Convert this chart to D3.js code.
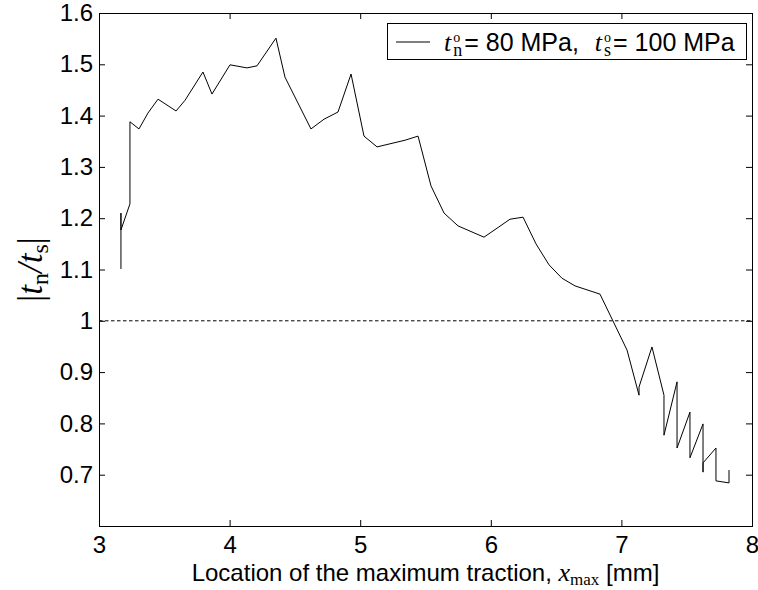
<!DOCTYPE html>
<html>
<head>
<meta charset="utf-8">
<script src="https://cdn.jsdelivr.net/npm/d3@7"></script>
<style>
  body { margin: 0; background: #fff; }
  svg { display: block; }
</style>
</head>
<body>
<div id="chart"></div>
<script>
// location of the maximum traction [mm]
var xmax = [3.168, 3.168, 3.168, 3.237, 3.237, 3.306, 3.375, 3.452, 3.590, 3.659,
            3.796, 3.865, 4.003, 4.133, 4.210, 4.355, 4.424, 4.623, 4.723, 4.830,
            4.930, 5.029, 5.129, 5.343, 5.443, 5.542, 5.642, 5.749, 5.948, 6.147,
            6.247, 6.346, 6.446, 6.545, 6.645, 6.836, 7.043, 7.135, 7.135, 7.234,
            7.326, 7.326, 7.426, 7.426, 7.525, 7.525, 7.625, 7.625, 7.625, 7.724,
            7.724, 7.824, 7.824];
// |tn/ts|
var ratio = [1.101, 1.210, 1.177, 1.228, 1.388, 1.374, 1.405, 1.432, 1.409, 1.430,
             1.485, 1.442, 1.499, 1.493, 1.497, 1.551, 1.475, 1.374, 1.393, 1.407,
             1.481, 1.360, 1.339, 1.352, 1.360, 1.263, 1.210, 1.185, 1.163, 1.198,
             1.202, 1.150, 1.109, 1.083, 1.068, 1.052, 0.943, 0.855, 0.871, 0.949,
             0.855, 0.777, 0.881, 0.752, 0.822, 0.733, 0.799, 0.705, 0.723, 0.752,
             0.688, 0.684, 0.709];

var xTicks = [3, 4, 5, 6, 7, 8];
var yTicks = [0.7, 0.8, 0.9, 1.0, 1.1, 1.2, 1.3, 1.4, 1.5, 1.6];
var refLevel = 1;

var sans = "'Liberation Sans', Arial, sans-serif";
var serif = "'Liberation Serif', 'Times New Roman', serif";

var margin = { top: 13, right: 6, bottom: 64, left: 99 },
    width = 758 - margin.left - margin.right,
    height = 590 - margin.top - margin.bottom;

var svg = d3.select("#chart")
    .append("svg")
    .attr("width", 758)
    .attr("height", 590);

var g = svg.append("g")
    .attr("transform", "translate(" + margin.left + "," + margin.top + ")");

var x = d3.scaleLinear().domain([3, 8]).range([0, width]);
var y = d3.scaleLinear().domain([0.6, 1.6]).range([height, 0]);

var fmt = d3.format(".1~f");

// axes, ticks pointing inward like matlab
g.append("g")
    .attr("transform", "translate(0," + height + ")")
    .call(d3.axisBottom(x).tickValues(xTicks).tickSize(-6).tickSizeOuter(0).tickPadding(10).tickFormat(fmt));
g.append("g")
    .call(d3.axisLeft(y).tickValues(yTicks).tickSize(-6).tickSizeOuter(0).tickPadding(6).tickFormat(fmt));
g.append("g")
    .call(d3.axisTop(x).tickValues(xTicks).tickSize(-6).tickSizeOuter(0).tickFormat(""));
g.append("g")
    .attr("transform", "translate(" + width + ",0)")
    .call(d3.axisRight(y).tickValues(yTicks).tickSize(-6).tickSizeOuter(0).tickFormat(""));

g.selectAll(".domain").remove();
g.selectAll(".tick line").attr("stroke", "#000");
g.selectAll(".tick text")
    .style("font-family", sans)
    .style("font-size", "24px")
    .attr("fill", "#000");

g.append("rect")
    .attr("x", 0.5).attr("y", 0.5)
    .attr("width", width).attr("height", height)
    .attr("fill", "none")
    .attr("stroke", "#000")
    .attr("stroke-width", 1);

// dashed reference line at 1
g.append("line")
    .attr("x1", x(3)).attr("x2", x(8))
    .attr("y1", y(refLevel)).attr("y2", y(refLevel))
    .attr("stroke", "#000")
    .attr("stroke-width", 1)
    .attr("stroke-dasharray", "3.5,2.5");

var line = d3.line()
    .x(function (d, i) { return x(xmax[i]); })
    .y(function (d) { return y(d); });

g.append("path")
    .datum(ratio)
    .attr("d", line)
    .attr("fill", "none")
    .attr("stroke", "#000")
    .attr("stroke-width", 1);

// places runs of text one after another; a run with sup gets a superscript stacked over it
function richText(parent, runs, anchor) {
    var cx = 0;
    runs.forEach(function (r) {
        var t = parent.append("text")
            .attr("x", cx)
            .attr("y", 0)
            .style("font-family", r.family)
            .style("white-space", "pre")
            .attr("fill", "#000");
        var main = t.append("tspan")
            .attr("x", cx)
            .attr("y", r.dy || 0)
            .style("font-size", r.size + "px")
            .style("font-style", r.italic ? "italic" : "normal")
            .text(r.t);
        var w = main.node().getComputedTextLength();
        if (r.sup) {
            var s = t.append("tspan")
                .attr("x", cx)
                .attr("y", r.supDy)
                .style("font-size", r.supSize + "px")
                .text(r.sup);
            w = Math.max(w, s.node().getComputedTextLength());
        }
        cx += w + (r.gap || 0);
    });
    if (anchor === "middle") {
        parent.selectAll("text").attr("transform", "translate(" + (-cx / 2) + ",0)");
    }
    return cx;
}

// x label
var xl = svg.append("g")
    .attr("transform", "translate(" + (margin.left + width / 2) + ",581)");
richText(xl, [
    { t: "Location of the maximum traction, ", family: sans, size: 24 },
    { t: "x", family: serif, size: 26, italic: true },
    { t: "max", family: serif, size: 17, dy: 4 },
    { t: " [mm]", family: sans, size: 24 }
], "middle");

// y label
var yl = svg.append("g")
    .attr("transform", "translate(42," + (margin.top + height / 2) + ") rotate(-90)");
richText(yl, [
    { t: "|", family: serif, size: 35 },
    { t: "t", family: serif, size: 35, italic: true },
    { t: "n", family: serif, size: 24, dy: 6 },
    { t: "/", family: serif, size: 35, italic: true },
    { t: "t", family: serif, size: 35, italic: true },
    { t: "s", family: serif, size: 24, dy: 6 },
    { t: "|", family: serif, size: 35 }
], "middle");

// legend
var lg = svg.append("g");
lg.append("rect")
    .attr("x", 387.5).attr("y", 23.5)
    .attr("width", 359).attr("height", 36)
    .attr("fill", "#fff")
    .attr("stroke", "#000");
lg.append("line")
    .attr("x1", 396).attr("x2", 430)
    .attr("y1", 42).attr("y2", 42)
    .attr("stroke", "#000");
var lt = lg.append("g").attr("transform", "translate(444,51)");
richText(lt, [
    { t: "t", family: serif, size: 26, italic: true, gap: 2 },
    { t: "n", family: serif, size: 18, dy: 5, sup: "o", supSize: 14, supDy: -9, gap: 2 },
    { t: "= 80 MPa,  ", family: sans, size: 25, gap: 2 },
    { t: "t", family: serif, size: 26, italic: true, gap: 2 },
    { t: "s", family: serif, size: 18, dy: 5, sup: "o", supSize: 14, supDy: -9, gap: 2 },
    { t: "= 100 MPa", family: sans, size: 25 }
]);
</script>
</body>
</html>
